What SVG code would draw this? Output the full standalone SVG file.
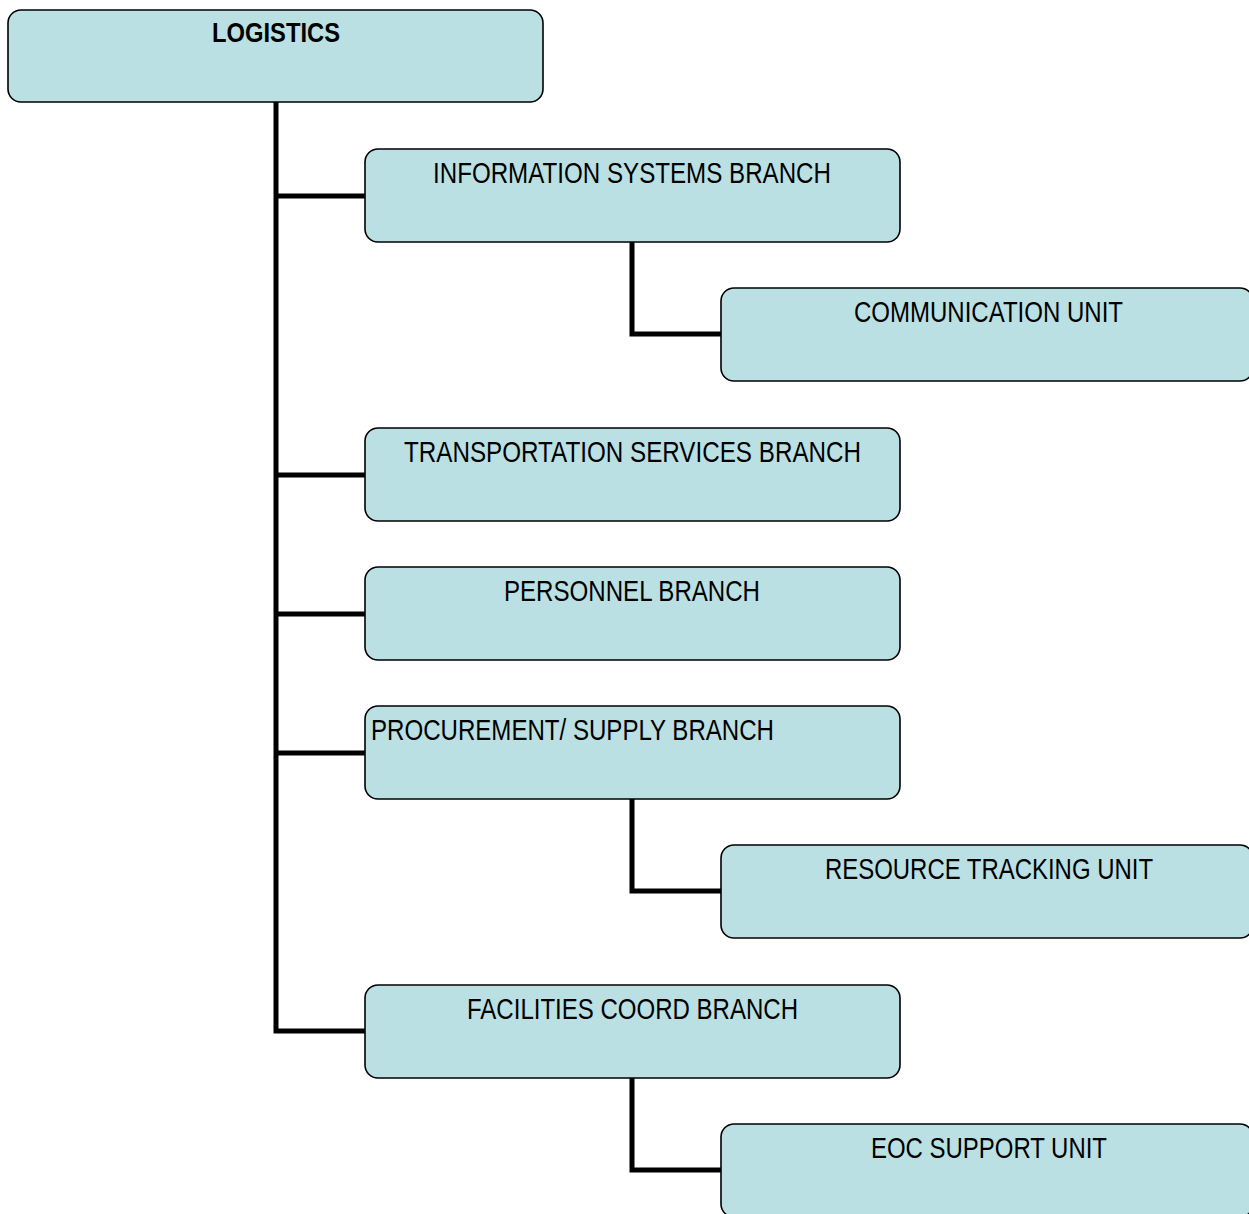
<svg xmlns="http://www.w3.org/2000/svg" width="1249" height="1214" viewBox="0 0 1249 1214">
  <style>
    .box { fill: #bae0e3; stroke: #000; stroke-width: 1.6; }
    .lbl { font-family: "Liberation Sans Narrow", "Liberation Sans", Arial, sans-serif; font-size: 30px; fill: #000; }
    .bold { font-weight: bold; font-size: 28px; }
    .wire { fill: none; stroke: #000; stroke-width: 5; stroke-linejoin: miter; }
  </style>
  <rect width="1249" height="1214" fill="#fff"/>

  <!-- connectors -->
  <g id="connectors">
    <path class="wire" d="M276,102 V1031 H365"/>
    <path class="wire" d="M276,196 H365"/>
    <path class="wire" d="M276,475 H365"/>
    <path class="wire" d="M276,614 H365"/>
    <path class="wire" d="M276,753 H365"/>
    <path class="wire" d="M632,242 V334 H721"/>
    <path class="wire" d="M632,799 V891 H721"/>
    <path class="wire" d="M632,1078 V1170 H721"/>
  </g>

  <g id="logistics">
    <rect class="box" x="8" y="10" width="535" height="92" rx="13"/>
    <text class="lbl bold" x="276" y="42" text-anchor="middle" textLength="128" lengthAdjust="spacingAndGlyphs">LOGISTICS</text>
  </g>

  <g id="information-systems">
    <rect class="box" x="365" y="149" width="535" height="93" rx="13"/>
    <text class="lbl" x="632" y="183" text-anchor="middle" textLength="398" lengthAdjust="spacingAndGlyphs">INFORMATION SYSTEMS BRANCH</text>
  </g>

  <g id="communication">
    <rect class="box" x="721" y="288" width="532" height="93" rx="13"/>
    <text class="lbl" x="988.5" y="322" text-anchor="middle" textLength="269" lengthAdjust="spacingAndGlyphs">COMMUNICATION UNIT</text>
  </g>

  <g id="transportation">
    <rect class="box" x="365" y="428" width="535" height="93" rx="13"/>
    <text class="lbl" x="632.5" y="462" text-anchor="middle" textLength="457" lengthAdjust="spacingAndGlyphs">TRANSPORTATION SERVICES BRANCH</text>
  </g>

  <g id="personnel">
    <rect class="box" x="365" y="567" width="535" height="93" rx="13"/>
    <text class="lbl" x="632" y="601" text-anchor="middle" textLength="256" lengthAdjust="spacingAndGlyphs">PERSONNEL BRANCH</text>
  </g>

  <g id="procurement">
    <rect class="box" x="365" y="706" width="535" height="93" rx="13"/>
    <text class="lbl" x="371" y="740" textLength="403" lengthAdjust="spacingAndGlyphs">PROCUREMENT/ SUPPLY BRANCH</text>
  </g>

  <g id="resource-tracking">
    <rect class="box" x="721" y="845" width="532" height="93" rx="13"/>
    <text class="lbl" x="989" y="879" text-anchor="middle" textLength="328" lengthAdjust="spacingAndGlyphs">RESOURCE TRACKING UNIT</text>
  </g>

  <g id="facilities">
    <rect class="box" x="365" y="985" width="535" height="93" rx="13"/>
    <text class="lbl" x="632.5" y="1019" text-anchor="middle" textLength="331" lengthAdjust="spacingAndGlyphs">FACILITIES COORD BRANCH</text>
  </g>

  <g id="eoc-support">
    <rect class="box" x="721" y="1124" width="532" height="93" rx="13"/>
    <text class="lbl" x="989" y="1158" text-anchor="middle" textLength="236" lengthAdjust="spacingAndGlyphs">EOC SUPPORT UNIT</text>
  </g>
</svg>
